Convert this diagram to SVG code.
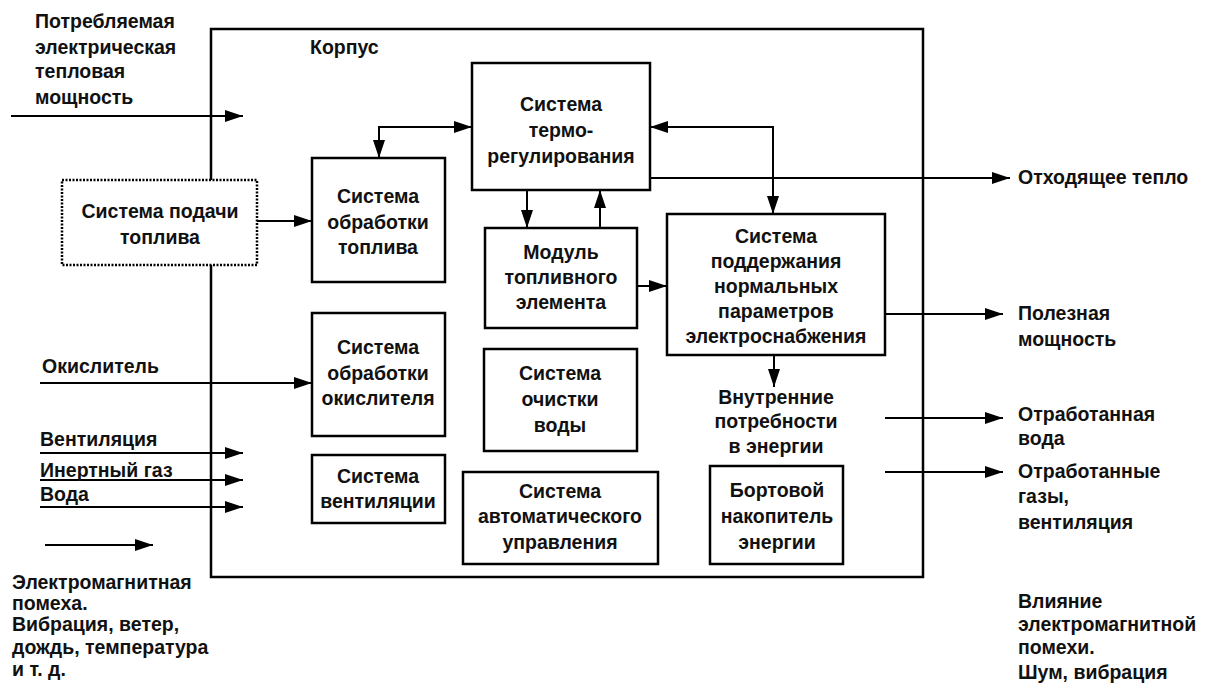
<svg xmlns="http://www.w3.org/2000/svg" width="1207" height="689" viewBox="0 0 1207 689">
<defs>
<marker id="ah" viewBox="0 0 18 12" markerUnits="userSpaceOnUse" markerWidth="18" markerHeight="12" refX="18" refY="6" orient="auto-start-reverse">
<path d="M0,0 L18,6 L0,12 z" fill="#000"/>
</marker>
<style>
text{font-family:"Liberation Sans",Arial,sans-serif;font-size:19.5px;font-weight:bold;fill:#111}
.c{text-anchor:middle}
.box{fill:#fff;stroke:#000;stroke-width:2.5}
.dot{fill:#fff;stroke:#000;stroke-width:2.5;stroke-dasharray:2 1.5}
.ln{fill:none;stroke:#000;stroke-width:2}
.a{marker-end:url(#ah)}
.b{marker-start:url(#ah);marker-end:url(#ah)}
</style>
</defs>
<rect width="1207" height="689" fill="#fff"/>
<g id="korpus">
<rect x="211" y="29" width="712" height="548" fill="none" stroke="#000" stroke-width="2.5"/>
<text x="310" y="54">Корпус</text>
</g>
<g id="connectors">
<path class="ln a" d="M11,116 H243"/>
<path class="ln a" d="M257,221 H312"/>
<path class="ln b" d="M379,158 V127 H472"/>
<path class="ln b" d="M650,127 H773 V214"/>
<path class="ln a" d="M650,178 H1010"/>
<path class="ln a" d="M527,190 V228"/>
<path class="ln a" d="M600,228 V190"/>
<path class="ln a" d="M637,286 H667"/>
<path class="ln a" d="M885,314 H1003"/>
<path class="ln a" d="M774,355 V387"/>
<path class="ln a" d="M885,418 H1003"/>
<path class="ln a" d="M885,472 H1003"/>
<path class="ln a" d="M40,383 H312"/>
<path class="ln a" d="M40,453 H243"/>
<path class="ln a" d="M40,480 H243"/>
<path class="ln a" d="M40,507 H243"/>
<path class="ln a" d="M45,545 H153"/>
</g>
<g id="fuel-supply">
<rect class="dot" x="62" y="180" width="195" height="85"/>
<text class="c" x="160" y="218">Система подачи</text>
<text class="c" x="160" y="244">топлива</text>
</g>
<g id="fuel-processing">
<rect class="box" x="312" y="158" width="133" height="124"/>
<text class="c" x="378" y="203">Система</text>
<text class="c" x="378" y="229">обработки</text>
<text class="c" x="378" y="254">топлива</text>
</g>
<g id="thermo">
<rect class="box" x="472" y="63" width="178" height="127"/>
<text class="c" x="561" y="111">Система</text>
<text class="c" x="561" y="137">термо-</text>
<text class="c" x="561" y="163">регулирования</text>
</g>
<g id="fuel-cell">
<rect class="box" x="485" y="228" width="152" height="100"/>
<text class="c" x="561" y="259">Модуль</text>
<text class="c" x="561" y="284">топливного</text>
<text class="c" x="561" y="309">элемента</text>
</g>
<g id="power-conditioning">
<rect class="box" x="667" y="214" width="218" height="141"/>
<text class="c" x="776" y="243">Система</text>
<text class="c" x="776" y="268">поддержания</text>
<text class="c" x="776" y="293">нормальных</text>
<text class="c" x="776" y="318">параметров</text>
<text class="c" x="776" y="343">электроснабжения</text>
</g>
<g id="oxidant-processing">
<rect class="box" x="312" y="313" width="133" height="123"/>
<text class="c" x="378" y="354">Система</text>
<text class="c" x="378" y="380">обработки</text>
<text class="c" x="378" y="405">окислителя</text>
</g>
<g id="water-treatment">
<rect class="box" x="484" y="349" width="153" height="102"/>
<text class="c" x="560" y="380">Система</text>
<text class="c" x="560" y="406">очистки</text>
<text class="c" x="560" y="432">воды</text>
</g>
<g id="ventilation">
<rect class="box" x="312" y="455" width="133" height="68"/>
<text class="c" x="378" y="483">Система</text>
<text class="c" x="378" y="508">вентиляции</text>
</g>
<g id="automatic-control">
<rect class="box" x="463" y="472" width="195" height="92"/>
<text class="c" x="560" y="498">Система</text>
<text class="c" x="560" y="523">автоматического</text>
<text class="c" x="560" y="549">управления</text>
</g>
<g id="storage">
<rect class="box" x="710" y="466" width="133" height="98"/>
<text class="c" x="777" y="497">Бортовой</text>
<text class="c" x="777" y="523">накопитель</text>
<text class="c" x="777" y="549">энергии</text>
</g>
<g id="internal-needs">
<text class="c" x="776" y="404">Внутренние</text>
<text class="c" x="776" y="428">потребности</text>
<text class="c" x="776" y="453">в энергии</text>
</g>
<g id="labels-left">
<text x="35" y="28">Потребляемая</text>
<text x="35" y="54">электрическая</text>
<text x="35" y="78">тепловая</text>
<text x="35" y="104">мощность</text>
<text x="42" y="373">Окислитель</text>
<text x="40" y="446">Вентиляция</text>
<text x="40" y="477">Инертный газ</text>
<text x="40" y="501">Вода</text>
<text x="12" y="589">Электромагнитная</text>
<text x="12" y="610">помеха.</text>
<text x="12" y="631">Вибрация, ветер,</text>
<text x="12" y="654">дождь, температура</text>
<text x="12" y="676">и т. д.</text>
</g>
<g id="labels-right">
<text x="1018" y="184">Отходящее тепло</text>
<text x="1018" y="320">Полезная</text>
<text x="1018" y="346">мощность</text>
<text x="1018" y="421">Отработанная</text>
<text x="1018" y="445">вода</text>
<text x="1018" y="478">Отработанные</text>
<text x="1018" y="503">газы,</text>
<text x="1018" y="529">вентиляция</text>
<text x="1018" y="608">Влияние</text>
<text x="1018" y="631">электромагнитной</text>
<text x="1018" y="654">помехи.</text>
<text x="1018" y="679">Шум, вибрация</text>
</g>
</svg>
